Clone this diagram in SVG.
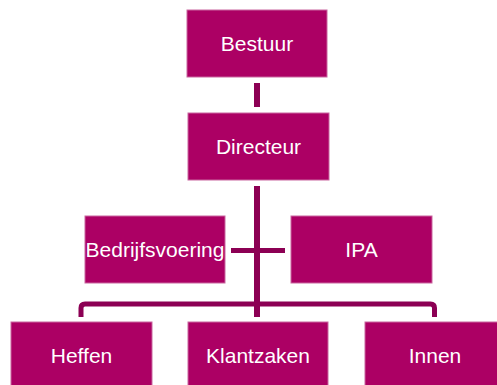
<svg xmlns="http://www.w3.org/2000/svg" width="497" height="385" viewBox="0 0 497 385">
<style>
.box{fill:#AC0064;stroke:#C9669F;stroke-width:1}
.lbl{fill:#FFFFFF;font-family:"Liberation Sans",Arial,sans-serif;font-size:21px;text-anchor:middle}
.ln{fill:none;stroke:#8C0054;stroke-width:5}
</style>
<rect width="497" height="385" fill="#FFFFFF"/>
<g id="connectors">
<line class="ln" x1="257" y1="83" x2="257" y2="107" style="stroke-width:6"/>
<line class="ln" x1="257" y1="186" x2="257" y2="317" style="stroke-width:6"/>
<line class="ln" x1="231" y1="250.5" x2="285" y2="250.5"/>
<path class="ln" d="M81,317 V308 Q81,304 85,304 H430.5 Q434.5,304 434.5,308 V317"/>
</g>
<g id="bestuur"><rect class="box" x="187" y="10" width="140" height="67"/><text class="lbl" x="257" y="51">Bestuur</text></g>
<g id="directeur"><rect class="box" x="188" y="113" width="141" height="67"/><text class="lbl" x="258.5" y="154">Directeur</text></g>
<g id="bedrijfsvoering"><rect class="box" x="85" y="216" width="140" height="67"/><text class="lbl" x="155" y="257" textLength="139" lengthAdjust="spacingAndGlyphs">Bedrijfsvoering</text></g>
<g id="ipa"><rect class="box" x="291" y="216" width="141" height="67"/><text class="lbl" x="361.5" y="257">IPA</text></g>
<g id="heffen"><rect class="box" x="11" y="322" width="141" height="67"/><text class="lbl" x="81.5" y="363">Heffen</text></g>
<g id="klantzaken"><rect class="box" x="188" y="322" width="140" height="67"/><text class="lbl" x="258" y="363">Klantzaken</text></g>
<g id="innen"><rect class="box" x="365" y="322" width="140" height="67"/><text class="lbl" x="435" y="363">Innen</text></g>
</svg>
